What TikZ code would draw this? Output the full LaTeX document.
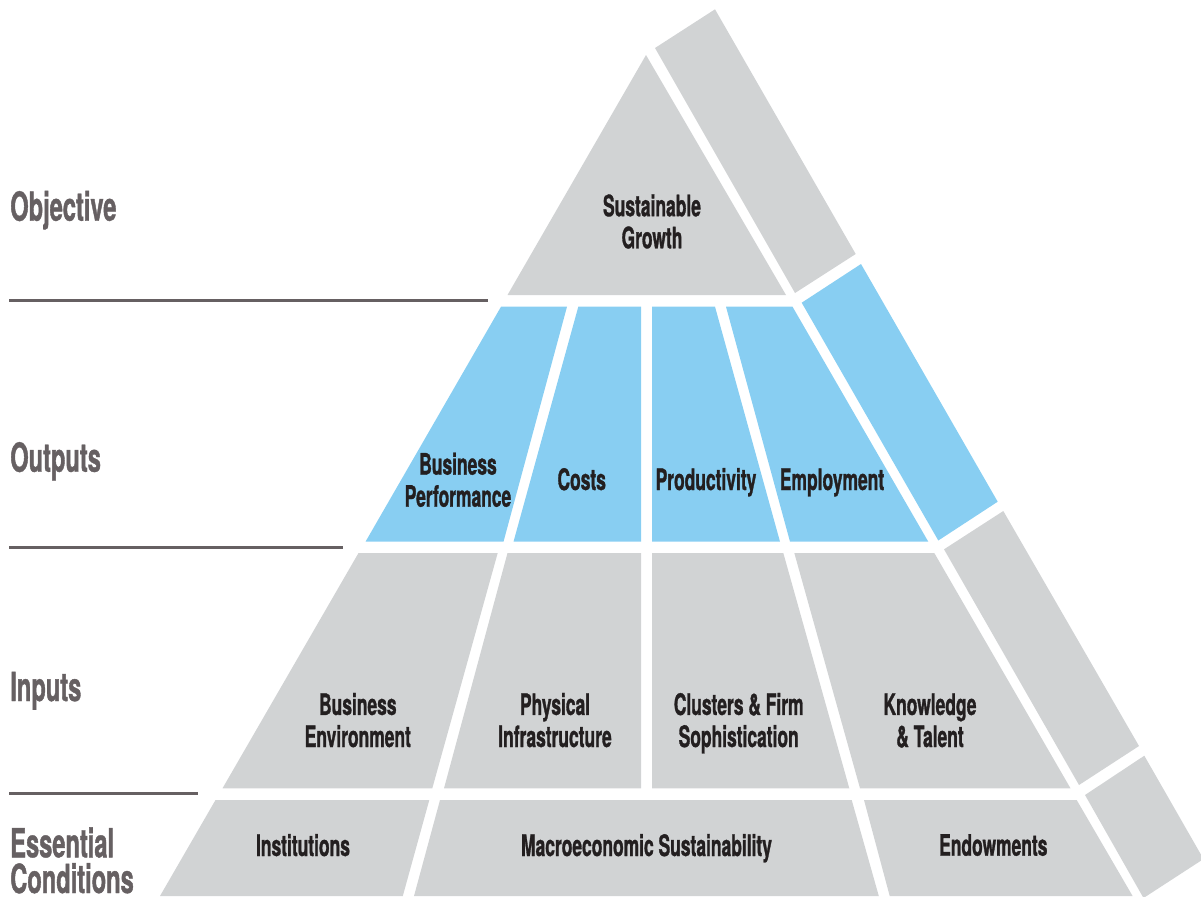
\documentclass[tikz,border=0pt]{standalone}
\usepackage{fontspec}
\setmainfont{TeX Gyre Heros}[FakeStretch=0.59,BoldFeatures={FakeBold=1}]
\usetikzlibrary{positioning}
\definecolor{pyrgray}{RGB}{209,211,212}
\definecolor{pyrblue}{RGB}{136,206,242}
\definecolor{ink}{RGB}{35,31,32}
\definecolor{tiergray}{RGB}{102,96,98}
\tikzset{gcell/.style={fill=pyrgray},bcell/.style={fill=pyrblue}}
\tikzset{celltext/.style={font=\bfseries\fontsize{21}{22.8}\selectfont,text=ink,align=center,anchor=base,inner sep=0pt}}
\tikzset{tier/.style={font=\bfseries\fontsize{28.5}{25.4}\selectfont,text=tiergray,align=left,anchor=base west,inner sep=0pt}}
\tikzset{rule/.style={draw=tiergray,line width=1.8pt}}

\begin{document}
\begin{tikzpicture}[x=0.025cm,y=-0.025cm]
    \useasboundingbox (0,0) rectangle (1201,896);
    \clip (0,0) rectangle (1201,896);
    % objective
    \fill[gcell] (646,55) -- (786,295) -- (507.5,295) -- cycle;
    % outputs
    \fill[bcell] (501,306.7) -- (567,306.7) -- (503.5,541.7) -- (365.5,541.7) -- cycle;
    \fill[bcell] (578.3,306.7) -- (641.2,306.7) -- (641.2,541.7) -- (513.5,541.7) -- cycle;
    \fill[bcell] (652,306.7) -- (715,306.7) -- (780,541.7) -- (652,541.7) -- cycle;
    \fill[bcell] (726,306.7) -- (792.5,306.7) -- (928.3,541.7) -- (790,541.7) -- cycle;
    % inputs
    \fill[gcell] (358.5,553) -- (497.7,553) -- (432.3,788.3) -- (222.5,788.3) -- cycle;
    \fill[gcell] (507.5,553) -- (641.2,553) -- (641.2,788.3) -- (444,788.3) -- cycle;
    \fill[gcell] (652,553) -- (783.3,553) -- (849.3,788.3) -- (652,788.3) -- cycle;
    \fill[gcell] (794.3,553) -- (934.3,553) -- (1070.5,788.3) -- (860,788.3) -- cycle;
    % essential conditions
    \fill[gcell] (215.5,800) -- (429.3,800) -- (402.8,896) -- (160,896) -- cycle;
    \fill[gcell] (440,800) -- (851.7,800) -- (878.8,896) -- (414,896) -- cycle;
    \fill[gcell] (864,800) -- (1076.7,800) -- (1132.6,896) -- (889.7,896) -- cycle;
    % side face
    \fill[gcell] (655,48) -- (715,9.3) -- (855.7,254) -- (795,293) -- cycle;
    \fill[bcell] (801.7,302.7) -- (861,264) -- (997.7,501.7) -- (938.3,540.5) -- cycle;
    \fill[gcell] (944,549.3) -- (1003.3,511) -- (1139,746) -- (1079,785) -- cycle;
    \fill[gcell] (1085,795) -- (1144.3,755.7) -- (1203.5,859) -- (1143.5,898) -- cycle;

    % texts in the cells (base = last line)
    \node[celltext] (growth) at (652,248.3) {Sustainable\\Growth};
    \node[celltext] (perf) at (458,506.7) {Business\\Performance};
    \node[celltext] (costs) at (581.7,490) {Costs};
    \node[celltext] (prod) at (706,490) {Productivity};
    \node[celltext] (empl) at (832,490) {Employment};
    \node[celltext] (busenv) at (357.8,747) {Business\\Environment};
    \node[celltext] (infra) at (555,747) {Physical\\Infrastructure};
    \node[celltext] (clust) at (738.7,747) {Clusters \& Firm\\Sophistication};
    \node[celltext] (talent) at (930,747) {Knowledge\\\& Talent};
    \node[celltext] (inst) at (303,856) {Institutions};
    \node[celltext] (macro) at (646.5,856) {Macroeconomic Sustainability};
    \node[celltext] (endow) at (993.3,855.7) {Endowments};

    % tiers on the left
    \node[tier] (objective) at (10,220.7) {Objective};
    \node[tier] (outputs) at (10,471.7) {Outputs};
    \node[tier] (inputs) at (10,701) {Inputs};
    \node[tier] (essential) at (10,893) {Essential\\Conditions};
    \coordinate (r1a) at (9,300.7);
    \coordinate (r1b) at (488,300.7);
    \coordinate (r2a) at (9,547.3);
    \coordinate (r2b) at (343,547.3);
    \coordinate (r3a) at (9,793.3);
    \coordinate (r3b) at (198,793.3);
    \draw[rule] (r1a) -- (r1b);
    \draw[rule] (r2a) -- (r2b);
    \draw[rule] (r3a) -- (r3b);
\end{tikzpicture}
\end{document}
